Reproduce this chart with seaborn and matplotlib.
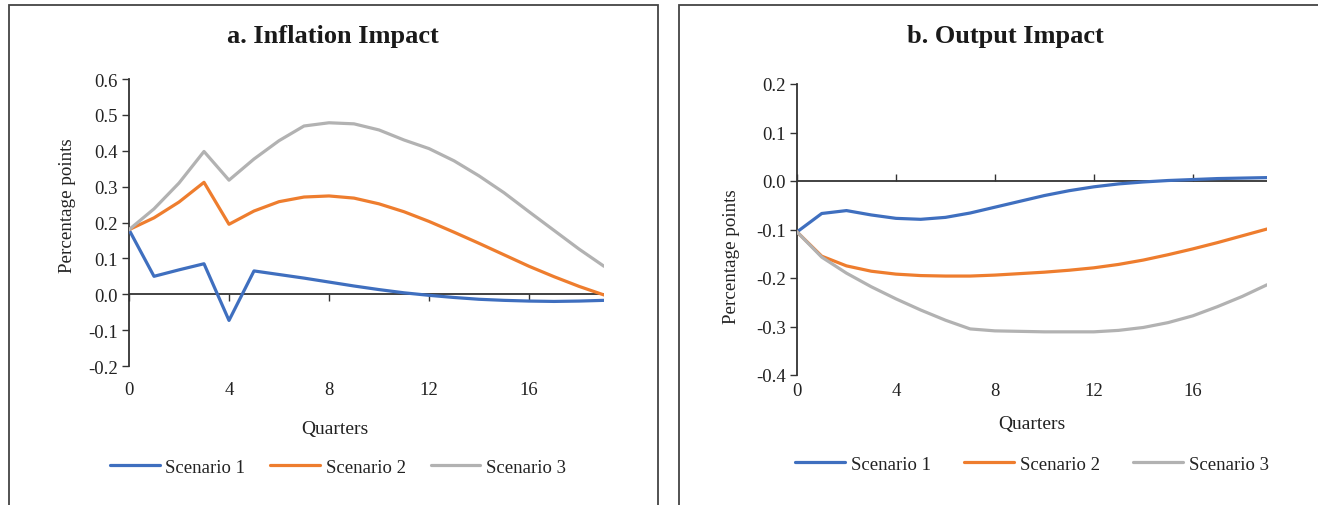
import numpy as np
import pandas as pd
import seaborn as sns
import matplotlib
matplotlib.use("Agg")
import matplotlib.pyplot as plt
from matplotlib.patches import Rectangle

quarters = list(range(20))
series_names = ["Scenario 1", "Scenario 2", "Scenario 3"]

infl_s1 = [0.18, 0.05, 0.068, 0.085, -0.073, 0.065, 0.055, 0.045, 0.034, 0.023,
           0.013, 0.004, -0.003, -0.009, -0.014, -0.017, -0.019, -0.02, -0.019, -0.017]
infl_s2 = [0.18, 0.213, 0.257, 0.312, 0.195, 0.232, 0.258, 0.271, 0.274, 0.268,
           0.252, 0.23, 0.203, 0.173, 0.142, 0.11, 0.078, 0.049, 0.022, -0.002]
infl_s3 = [0.18, 0.238, 0.31, 0.398, 0.318, 0.377, 0.428, 0.469, 0.478, 0.475,
           0.458, 0.43, 0.406, 0.372, 0.33, 0.283, 0.23, 0.178, 0.126, 0.078]

out_s1 = [-0.105, -0.067, -0.061, -0.07, -0.077, -0.079, -0.075, -0.066, -0.054, -0.042,
          -0.03, -0.02, -0.012, -0.006, -0.002, 0.001, 0.003, 0.005, 0.006, 0.007]
out_s2 = [-0.105, -0.155, -0.175, -0.186, -0.192, -0.195, -0.196, -0.196, -0.194, -0.191,
          -0.188, -0.184, -0.179, -0.172, -0.163, -0.152, -0.14, -0.127, -0.113, -0.099]
out_s3 = [-0.105, -0.157, -0.19, -0.218, -0.243, -0.266, -0.287, -0.305, -0.309, -0.310,
          -0.311, -0.311, -0.311, -0.308, -0.302, -0.292, -0.278, -0.259, -0.238, -0.214]

xticks = [0, 4, 8, 12, 16]
infl_yticks = [-0.2, -0.1, 0.0, 0.1, 0.2, 0.3, 0.4, 0.5, 0.6]
out_yticks = [-0.4, -0.3, -0.2, -0.1, 0.0, 0.1, 0.2]

colors = ["#3F6FBF", "#EE7D2E", "#B2B2B2"]

sns.set_theme(style="white")
plt.rcParams["font.family"] = ["Liberation Serif", "DejaVu Serif"]
plt.rcParams["text.color"] = "#222222"


def long_df(s1, s2, s3):
    frames = []
    for name, vals in zip(series_names, [s1, s2, s3]):
        frames.append(pd.DataFrame({"Quarter": quarters, "Value": vals, "Series": name}))
    return pd.concat(frames, ignore_index=True)


fig = plt.figure(figsize=(13.18, 5.06), dpi=100)
W, H = 1318, 506

def fx(px):
    return px / W

def fy(py):
    return 1 - py / H

# panel frames
fig.add_artist(Rectangle((fx(9), -0.05), fx(658 - 9), fy(6) + 0.05,
                         transform=fig.transFigure, fill=False, edgecolor="#444444", lw=1.3))
fig.add_artist(Rectangle((fx(679), -0.05), 0.5, fy(6) + 0.05,
                         transform=fig.transFigure, fill=False, edgecolor="#444444", lw=1.3))

ax1 = fig.add_axes([fx(129), fy(367), fx(604 - 129), (367 - 80) / H])
ax2 = fig.add_axes([fx(797), fy(376), fx(1267 - 797), (376 - 85) / H])

specs = [
    dict(ax=ax1, df=long_df(infl_s1, infl_s2, infl_s3), title="a. Inflation Impact", ylim=(-0.2, 0.6),
         yticks=infl_yticks, title_x=333, leg=(338, 468), xlab=(335, 430), ylab=(68, 206), xpad=11,
         colsp=1.33),
    dict(ax=ax2, df=long_df(out_s1, out_s2, out_s3), title="b. Output Impact", ylim=(-0.4, 0.2),
         yticks=out_yticks, title_x=1005, leg=(1032, 465), xlab=(1032, 424), ylab=(731, 257), xpad=5,
         colsp=1.8),
]

for sp in specs:
    ax = sp["ax"]
    ylim = sp["ylim"]
    ax.axhline(0, color="#333333", lw=1.3, zorder=1)
    sns.lineplot(data=sp["df"], x="Quarter", y="Value", hue="Series", palette=colors,
                 linewidth=2.3, ax=ax, legend=True, zorder=3)
    ax.set_xlim(0, 19)
    ax.set_ylim(*ylim)
    ax.set_yticks(sp["yticks"])
    ax.set_yticklabels([f"{v:.1f}" for v in sp["yticks"]], fontsize=13.5)
    ax.set_xticks(xticks)
    ax.set_xticklabels([str(v) for v in xticks], fontsize=13.5)
    for s in ["top", "right", "bottom"]:
        ax.spines[s].set_visible(False)
    ax.spines["left"].set_color("#333333")
    ax.spines["left"].set_linewidth(1.3)
    ax.tick_params(axis="y", left=True, length=5, width=1.0, color="#333333", pad=3, labelcolor="#222222")
    ax.tick_params(axis="x", bottom=False, length=0, pad=sp["xpad"], labelcolor="#222222")
    ax.set_xlabel("")
    ax.set_ylabel("")
    # tick marks on the zero line
    zero_loc = (0 - ylim[0]) / (ylim[1] - ylim[0])
    sec = ax.secondary_xaxis(zero_loc)
    sec.set_xticks(xticks)
    sec.set_xticklabels([])
    sec.tick_params(axis="x", direction="out", length=5, width=1.0, color="#333333")
    for s in sec.spines.values():
        s.set_visible(False)

    fig.text(fx(sp["title_x"]), fy(37), sp["title"], ha="center", va="center",
             fontsize=19, fontweight="bold", color="#1a1a1a")
    fig.text(fx(sp["xlab"][0]), fy(sp["xlab"][1]), "Quarters", ha="center", va="center", fontsize=14)
    fig.text(fx(sp["ylab"][0]), fy(sp["ylab"][1]), "Percentage points", ha="center", va="center",
             rotation=90, fontsize=13.7)
    handles, labels = ax.get_legend_handles_labels()
    ax.get_legend().remove()
    fig.legend(handles, labels, loc="center", bbox_to_anchor=(fx(sp["leg"][0]), fy(sp["leg"][1])), ncol=3,
               frameon=False, fontsize=13.5, handlelength=2.65, columnspacing=sp["colsp"], handletextpad=0.3)

fig.savefig("out.png", dpi=100)
